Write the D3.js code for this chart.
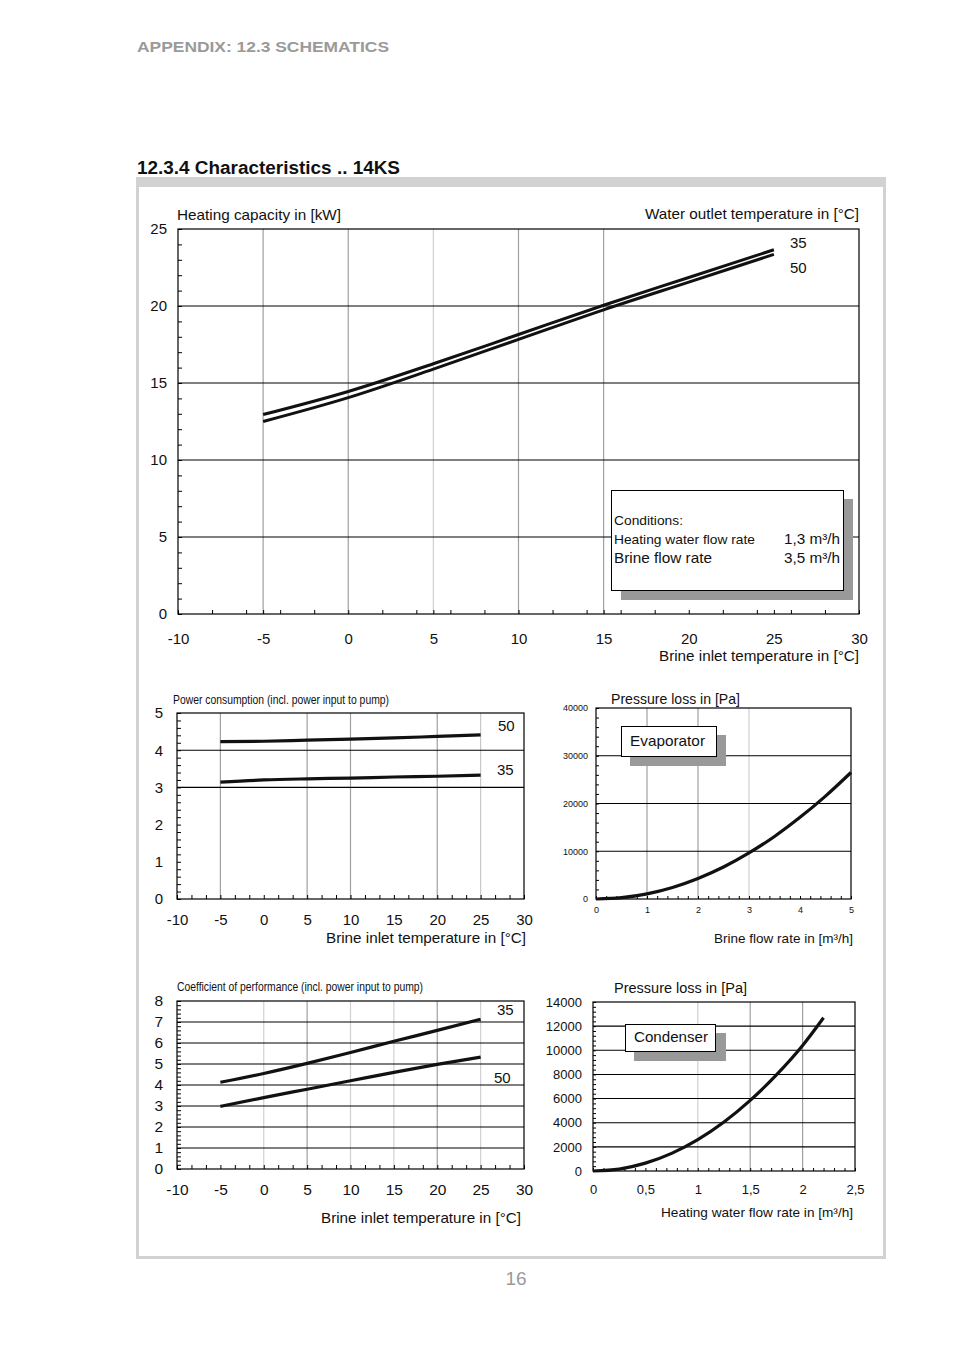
<!DOCTYPE html>
<html>
<head>
<meta charset="utf-8">
<script src="https://cdn.jsdelivr.net/npm/d3@7"></script>
<style>
  html, body { margin: 0; padding: 0; background: #fff; }
  svg { display: block; font-family: "Liberation Sans", Arial, sans-serif; }
</style>
</head>
<body>
<svg id="page" width="954" height="1351"></svg>
<script>
// ---------------- DATA ----------------
const brineTemps = [-5, 0, 5, 10, 15, 20, 25];
const heatCap35 = [12.95, 14.45, 16.25, 18.15, 20.05, 21.85, 23.65];
const heatCap50 = [12.5, 14.05, 15.9, 17.83, 19.75, 21.55, 23.35];
const power35 = [3.14, 3.2, 3.23, 3.25, 3.28, 3.3, 3.33];
const power50 = [4.23, 4.24, 4.27, 4.3, 4.33, 4.37, 4.41];
const cop35 = [4.13, 4.55, 5.03, 5.55, 6.08, 6.6, 7.13];
const cop50 = [2.98, 3.4, 3.8, 4.2, 4.6, 4.98, 5.33];
const brineFlow = [0, 0.5, 1, 1.5, 2, 2.5, 3, 3.5, 4, 4.5, 5];
const evapLoss = [0, 270, 1080, 2420, 4300, 6700, 9650, 13100, 17100, 21550, 26500];
const waterFlow = [0, 0.25, 0.5, 0.75, 1, 1.25, 1.5, 1.75, 2, 2.2];
const condLoss = [0, 160, 650, 1460, 2600, 4060, 5850, 7960, 10400, 12700];
const tempTicks = [-10, -5, 0, 5, 10, 15, 20, 25, 30];
const evapXTicks = [0, 1, 2, 3, 4, 5];
const evapYTicks = [0, 10000, 20000, 30000, 40000];
const condXTicks = [0, 0.5, 1, 1.5, 2, 2.5];
const condYTicks = [0, 2000, 4000, 6000, 8000, 10000, 12000, 14000];

const svg = d3.select("#page");
svg.append("rect").attr("width", 954).attr("height", 1351).attr("fill", "#fff");

function txt(x, y, s, size, anchor, opts) {
  const t = svg.append("text").attr("x", x).attr("y", y).attr("font-size", size)
    .attr("fill", "#111").attr("text-anchor", anchor || "start").text(s);
  if (opts && opts.len) t.attr("textLength", opts.len).attr("lengthAdjust", "spacingAndGlyphs");
  if (opts && opts.bold) t.attr("font-weight", "bold");
  if (opts && opts.fill) t.attr("fill", opts.fill);
  return t;
}

// Page header and frame
txt(137, 52, "APPENDIX: 12.3 SCHEMATICS", 15, "start", { len: 252, bold: true, fill: "#9a9a9a" });
txt(137, 174, "12.3.4 Characteristics .. 14KS", 18, "start", { len: 263, bold: true });
svg.append("rect").attr("x", 137.5).attr("y", 178.5).attr("width", 747).attr("height", 1079)
  .attr("fill", "none").attr("stroke", "#d2d2d2").attr("stroke-width", 3);
svg.append("rect").attr("x", 136).attr("y", 177).attr("width", 750).attr("height", 10).attr("fill", "#d2d2d2");
txt(516, 1285, "16", 19, "middle", { fill: "#9a9a9a" });

function range(a, b, s) { const r = []; for (let v = a; v <= b + 1e-9; v += s) r.push(+v.toFixed(6)); return r; }

function drawChart(c) {
  const g = svg.append("g");
  const x = d3.scaleLinear().domain(c.xDomain).range([c.x0, c.x1]);
  const y = d3.scaleLinear().domain(c.yDomain).range([c.y1, c.y0]);
  c.vGrid.forEach(([v, col]) => {
    g.append("line").attr("x1", x(v)).attr("x2", x(v)).attr("y1", c.y0).attr("y2", c.y1)
      .attr("stroke", col).attr("stroke-width", 1.2);
  });
  c.hGrid.forEach(v => {
    g.append("line").attr("x1", c.x0).attr("x2", c.x1).attr("y1", y(v)).attr("y2", y(v))
      .attr("stroke", "#000").attr("stroke-width", 1.1);
  });
  const xa = g.append("g").attr("transform", `translate(0,${c.y1})`)
    .call(d3.axisBottom(x).tickValues(c.xMinor).tickSize(-c.tickLen).tickFormat(""));
  const ya = g.append("g").attr("transform", `translate(${c.x0},0)`)
    .call(d3.axisLeft(y).tickValues(c.yMinor).tickSize(-c.tickLen).tickFormat(""));
  [xa, ya].forEach(a => { a.select(".domain").remove(); a.selectAll("line").attr("stroke", "#000"); });
  const xl = g.append("g").attr("transform", `translate(0,${c.y1})`)
    .call(d3.axisBottom(x).tickValues(c.xTicks).tickSize(0).tickPadding(c.xPad).tickFormat(c.xFmt));
  const yl = g.append("g").attr("transform", `translate(${c.x0},0)`)
    .call(d3.axisLeft(y).tickValues(c.yTicks).tickSize(0).tickPadding(c.yPad).tickFormat(c.yFmt));
  [xl, yl].forEach(a => {
    a.select(".domain").remove();
    a.selectAll("text").attr("fill", "#111").attr("font-family", "Liberation Sans, Arial, sans-serif");
  });
  xl.selectAll("text").attr("font-size", c.xFont);
  yl.selectAll("text").attr("font-size", c.yFont);
  g.append("rect").attr("x", c.x0).attr("y", c.y0).attr("width", c.x1 - c.x0).attr("height", c.y1 - c.y0)
    .attr("fill", "none").attr("stroke", "#000").attr("stroke-width", 1.2);
  const line = d3.line().x(d => x(d[0])).y(d => y(d[1])).curve(d3.curveMonotoneX);
  c.series.forEach(s => {
    g.append("path").attr("d", line(s.xs.map((v, i) => [v, s.ys[i]])))
      .attr("fill", "none").attr("stroke", "#111").attr("stroke-width", s.w || 3.2)
      .attr("stroke-linecap", "butt");
  });
  return { g, x, y };
}

// ---------- Chart 1: Heating capacity ----------
drawChart({
  x0: 178, x1: 859, y0: 229, y1: 614, xDomain: [-10, 30], yDomain: [0, 25],
  vGrid: [[-5, "#a0a0a0"], [0, "#a0a0a0"], [5, "#d0d0d0"], [10, "#a0a0a0"], [15, "#a0a0a0"]],
  hGrid: [5, 10, 15, 20],
  xMinor: Array.from(new Set(range(-10, 30, 2).concat(range(-10, 30, 5)))), yMinor: range(0, 25, 1), tickLen: 4,
  xTicks: tempTicks, yTicks: [0, 5, 10, 15, 20, 25], xPad: 19, yPad: 11,
  xFmt: d => d, yFmt: d => d, xFont: 15, yFont: 15,
  series: [{ xs: brineTemps, ys: heatCap35, w: 3 }, { xs: brineTemps, ys: heatCap50, w: 3 }]
});
txt(177, 220, "Heating capacity in [kW]", 15, "start", { len: 164 });
txt(859, 219, "Water outlet temperature in [°C]", 15, "end", { len: 214 });
txt(790, 248, "35", 15);
txt(790, 273, "50", 15);
txt(859, 661, "Brine inlet temperature in [°C]", 15, "end", { len: 200 });
// conditions box
svg.append("rect").attr("x", 621).attr("y", 499).attr("width", 232).attr("height", 101).attr("fill", "#999");
svg.append("rect").attr("x", 611.5).attr("y", 490.5).attr("width", 232).attr("height", 100)
  .attr("fill", "#fff").attr("stroke", "#000").attr("stroke-width", 1);
txt(614, 525, "Conditions:", 13.5, "start", { len: 69 });
txt(614, 544, "Heating water flow rate", 13.5, "start", { len: 141 });
txt(614, 563, "Brine flow rate", 15, "start", { len: 98 });
txt(840, 544, "1,3 m³/h", 15, "end", { len: 56 });
txt(840, 563, "3,5 m³/h", 15, "end", { len: 56 });

// ---------- Chart 2: Power consumption ----------
drawChart({
  x0: 177, x1: 524, y0: 713, y1: 899, xDomain: [-10, 30], yDomain: [0, 5],
  vGrid: [[-5, "#a0a0a0"], [5, "#a0a0a0"], [10, "#a0a0a0"], [20, "#a0a0a0"], [25, "#c8c8c8"]],
  hGrid: [3, 4],
  xMinor: range(-10, 30, 5 / 3), yMinor: range(0, 5, 0.2), tickLen: 4,
  xTicks: tempTicks, yTicks: [0, 1, 2, 3, 4, 5], xPad: 15, yPad: 14,
  xFmt: d => d, yFmt: d => d, xFont: 15, yFont: 15,
  series: [{ xs: brineTemps, ys: power35 }, { xs: brineTemps, ys: power50 }]
});
txt(173, 704, "Power consumption (incl. power input to pump)", 12, "start", { len: 216 });
txt(498, 731, "50", 15);
txt(497, 775, "35", 15);
txt(526, 943, "Brine inlet temperature in [°C]", 15, "end", { len: 200 });

// ---------- Chart 3: Evaporator pressure loss ----------
drawChart({
  x0: 596, x1: 851, y0: 708, y1: 899, xDomain: [0, 5], yDomain: [0, 40000],
  vGrid: [[1, "#a0a0a0"], [2, "#a0a0a0"], [3, "#d0d0d0"]],
  hGrid: [10000, 20000, 30000],
  xMinor: range(0, 5, 0.2), yMinor: range(0, 40000, 2000), tickLen: 3,
  xTicks: evapXTicks, yTicks: evapYTicks, xPad: 8, yPad: 8,
  xFmt: d => d, yFmt: d => d, xFont: 9, yFont: 9,
  series: [{ xs: brineFlow, ys: evapLoss, w: 3.2 }]
});
txt(611, 704, "Pressure loss in [Pa]", 14.5, "start", { len: 129 });
txt(853, 943, "Brine flow rate in  [m³/h]", 13.5, "end", { len: 139 });
svg.append("rect").attr("x", 630).attr("y", 735).attr("width", 96).attr("height", 31).attr("fill", "#999");
svg.append("rect").attr("x", 621.5).attr("y", 726.5).attr("width", 95).attr("height", 30)
  .attr("fill", "#fff").attr("stroke", "#000").attr("stroke-width", 1);
txt(630, 746, "Evaporator", 15, "start", { len: 75 });

// ---------- Chart 4: COP ----------
drawChart({
  x0: 177, x1: 524, y0: 1001, y1: 1169, xDomain: [-10, 30], yDomain: [0, 8],
  vGrid: [[0, "#d0d0d0"], [5, "#a0a0a0"], [10, "#d0d0d0"], [15, "#d0d0d0"], [20, "#a0a0a0"], [25, "#d0d0d0"]],
  hGrid: [1, 2, 3, 4, 5, 6, 7],
  xMinor: range(-10, 30, 5 / 3), yMinor: range(0, 8, 0.2), tickLen: 4,
  xTicks: tempTicks, yTicks: [0, 1, 2, 3, 4, 5, 6, 7, 8], xPad: 15, yPad: 14,
  xFmt: d => d, yFmt: d => d, xFont: 15.5, yFont: 15.5,
  series: [{ xs: brineTemps, ys: cop35 }, { xs: brineTemps, ys: cop50 }]
});
txt(177, 991, "Coefficient of performance (incl. power input to pump)", 12, "start", { len: 246 });
txt(497, 1015, "35", 15);
txt(494, 1083, "50", 15);
txt(521, 1223, "Brine inlet temperature in [°C]", 15, "end", { len: 200 });

// ---------- Chart 5: Condenser pressure loss ----------
drawChart({
  x0: 593, x1: 855, y0: 1002, y1: 1171, xDomain: [0, 2.5], yDomain: [0, 14000],
  vGrid: [[1, "#d0d0d0"], [1.5, "#a0a0a0"], [2, "#a0a0a0"]],
  hGrid: [2000, 4000, 6000, 8000, 10000, 12000],
  xMinor: range(0, 2.5, 0.1), yMinor: range(0, 14000, 400), tickLen: 3,
  xTicks: condXTicks, yTicks: condYTicks, xPad: 14, yPad: 11,
  xFmt: d => String(d).replace(".", ","), yFmt: d => d, xFont: 13, yFont: 13,
  series: [{ xs: waterFlow, ys: condLoss, w: 3.2 }]
});
txt(614, 993, "Pressure loss in [Pa]", 14.5, "start", { len: 133 });
txt(853, 1217, "Heating water flow rate in  [m³/h]", 13.5, "end", { len: 192 });
svg.append("rect").attr("x", 634).attr("y", 1033).attr("width", 92).attr("height", 28).attr("fill", "#999");
svg.append("rect").attr("x", 625.5).attr("y", 1024.5).attr("width", 90).attr("height", 27)
  .attr("fill", "#fff").attr("stroke", "#000").attr("stroke-width", 1);
txt(634, 1042, "Condenser", 15, "start", { len: 74 });
</script>
</body>
</html>
